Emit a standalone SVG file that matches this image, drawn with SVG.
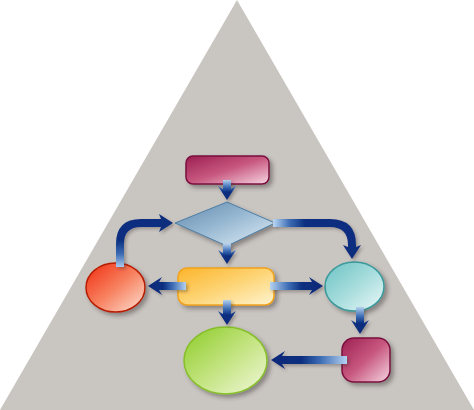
<svg xmlns="http://www.w3.org/2000/svg" width="474" height="410" viewBox="0 0 474 410">
<defs>
<filter id="sh" x="-30%" y="-30%" width="160%" height="160%">
<feDropShadow dx="3" dy="3" stdDeviation="2.2" flood-color="#3a3530" flood-opacity="0.45"/>
</filter>
<filter id="ash" x="-30%" y="-30%" width="160%" height="160%">
<feDropShadow dx="2" dy="2" stdDeviation="1.5" flood-color="#3a3530" flood-opacity="0.35"/>
</filter>
<linearGradient id="gMag" x1="0" y1="0" x2="1" y2="1"><stop offset="0" stop-color="#9c1f52"/><stop offset="0.5" stop-color="#c8587f"/><stop offset="1" stop-color="#f6d6e2"/></linearGradient>
<linearGradient id="gDia" x1="0" y1="0" x2="1" y2="1"><stop offset="0" stop-color="#5f88ac"/><stop offset="0.5" stop-color="#9bbbd4"/><stop offset="1" stop-color="#e2eef6"/></linearGradient>
<linearGradient id="gYel" x1="0" y1="0" x2="1" y2="1"><stop offset="0" stop-color="#fcb42a"/><stop offset="0.5" stop-color="#fdd474"/><stop offset="1" stop-color="#fff4d0"/></linearGradient>
<linearGradient id="gRed" x1="0" y1="0" x2="1" y2="1"><stop offset="0" stop-color="#f02c10"/><stop offset="0.5" stop-color="#f7805e"/><stop offset="1" stop-color="#fde2d6"/></linearGradient>
<linearGradient id="gCya" x1="0" y1="0" x2="1" y2="1"><stop offset="0" stop-color="#6cc2c4"/><stop offset="0.5" stop-color="#a6dcdc"/><stop offset="1" stop-color="#ecf8f8"/></linearGradient>
<linearGradient id="gGrn" x1="0" y1="0" x2="1" y2="1"><stop offset="0" stop-color="#8ccc28"/><stop offset="0.5" stop-color="#c2e37e"/><stop offset="1" stop-color="#f2f8dc"/></linearGradient>
<linearGradient id="gArr" x1="0" y1="0" x2="1" y2="0"><stop offset="0" stop-color="#b4d2f0"/><stop offset="0.35" stop-color="#3d6cb4"/><stop offset="0.6" stop-color="#0c2f80"/><stop offset="1" stop-color="#0a2a78"/></linearGradient>
<linearGradient id="gArrL" gradientUnits="userSpaceOnUse" x1="0" y1="268" x2="0" y2="240"><stop offset="0" stop-color="#b4d2f0"/><stop offset="0.5" stop-color="#3d6cb4"/><stop offset="1" stop-color="#0c2f80"/></linearGradient>
<linearGradient id="gArrR" gradientUnits="userSpaceOnUse" x1="274" y1="0" x2="305" y2="0"><stop offset="0" stop-color="#b4d2f0"/><stop offset="0.5" stop-color="#3d6cb4"/><stop offset="1" stop-color="#0c2f80"/></linearGradient>
<style>
.arr{fill:url(#gArr)}
.head{fill:#0b2d7c}
.cur{fill:none;stroke-width:8}
</style>
</defs>
<polygon points="237,0 0,410 474,410" fill="#c9c5c1"/>
<g id="start" filter="url(#sh)"><rect x="186" y="156" width="83" height="28" rx="7" fill="url(#gMag)" stroke="#7a0f3e" stroke-width="1.5"/></g>
<g id="decision" filter="url(#sh)"><polygon points="227,202 275,223 227,246 175,223" fill="url(#gDia)" stroke="#4d7ea4" stroke-width="1"/></g>
<g id="process" filter="url(#sh)"><rect x="178" y="268" width="96" height="37" rx="9" fill="url(#gYel)" stroke="#f0a21c" stroke-width="1.5"/></g>
<g id="left" filter="url(#sh)"><ellipse cx="115.5" cy="287.5" rx="29.5" ry="24.5" fill="url(#gRed)" stroke="#b81e00" stroke-width="1.5"/></g>
<g id="right" filter="url(#sh)"><ellipse cx="354.5" cy="286.5" rx="29.5" ry="24.5" fill="url(#gCya)" stroke="#3a9a9c" stroke-width="1.5"/></g>
<g id="end" filter="url(#sh)"><ellipse cx="225.5" cy="360.5" rx="41.5" ry="33.5" fill="url(#gGrn)" stroke="#86bf2a" stroke-width="1.5"/></g>
<g id="bottomright" filter="url(#sh)"><rect x="342" y="338" width="48" height="44" rx="12" fill="url(#gMag)" stroke="#7a0f3e" stroke-width="1.5"/></g>
<g id="connectors" filter="url(#ash)">
<path class="arr" transform="translate(227,200) rotate(90)" d="M-20,-4 L-11,-4 L-14,-9 L0,0 L-14,9 L-11,4 L-20,4 Z"/>
<path class="arr" transform="translate(227,264) rotate(90)" d="M-20,-4 L-11,-4 L-14,-9 L0,0 L-14,9 L-11,4 L-20,4 Z"/>
<path class="arr" transform="translate(227,325) rotate(90)" d="M-25,-4 L-11,-4 L-14,-9 L0,0 L-14,9 L-11,4 L-25,4 Z"/>
<path class="arr" transform="translate(148,286) rotate(180)" d="M-38,-4 L-11,-4 L-14,-9 L0,0 L-14,9 L-11,4 L-38,4 Z"/>
<path class="arr" transform="translate(323,286)" d="M-53,-4 L-11,-4 L-14,-9 L0,0 L-14,9 L-11,4 L-53,4 Z"/>
<path class="arr" transform="translate(360,334) rotate(90)" d="M-27,-4 L-11,-4 L-14,-9 L0,0 L-14,9 L-11,4 L-27,4 Z"/>
<path class="arr" transform="translate(271,360) rotate(180)" d="M-76,-4 L-11,-4 L-14,-9 L0,0 L-14,9 L-11,4 L-76,4 Z"/>
<path class="cur" stroke="url(#gArrL)" d="M120,267 L120,244 Q120,223 141,223 L161,223"/>
<path class="head" transform="translate(173,223)" d="M-12,-4 L-14,-9 L0,0 L-14,9 L-12,4 Z"/>
<path class="cur" stroke="url(#gArrR)" d="M273,223 L330,223 Q352,223 352,245 L352,247"/>
<path class="head" transform="translate(352,259) rotate(90)" d="M-12,-4 L-14,-9 L0,0 L-14,9 L-12,4 Z"/>
</g>
</svg>
